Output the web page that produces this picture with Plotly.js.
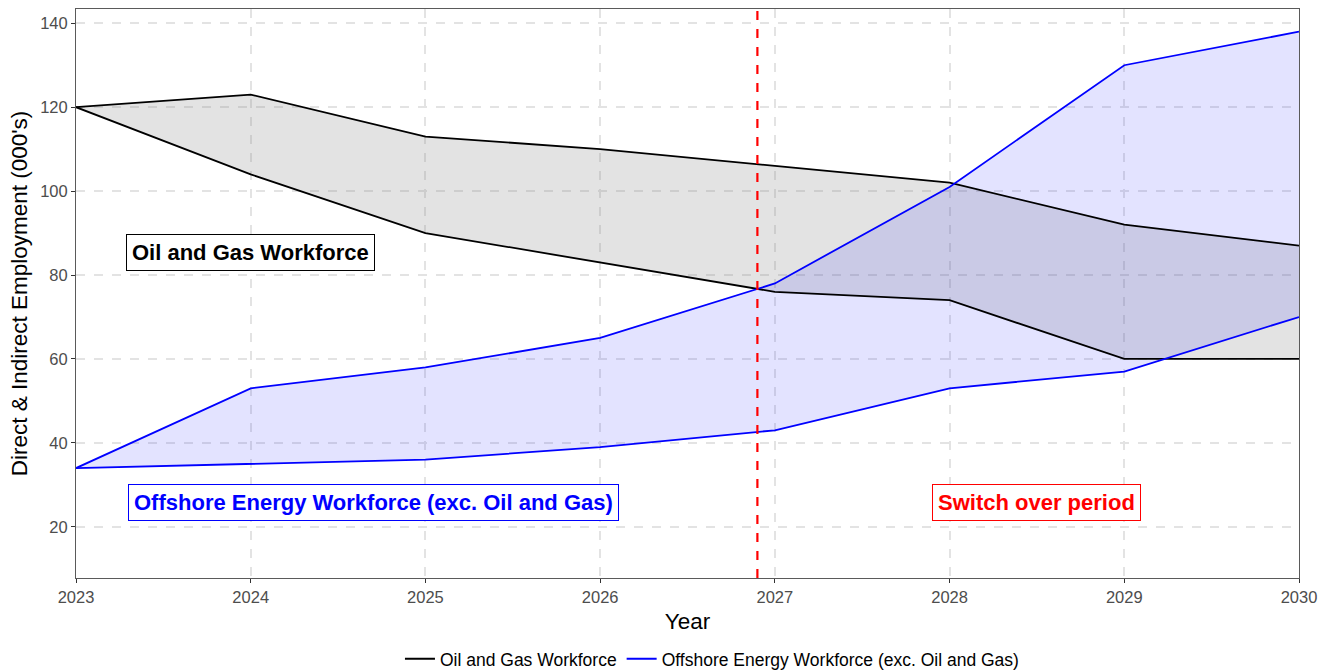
<!DOCTYPE html>
<html><head><meta charset="utf-8">
<script src="https://cdn.plot.ly/plotly-3.0.1.min.js"></script>
<style>body{margin:0;background:#fff}#chart{width:1330px;height:670px}</style>
</head><body><div id="chart"></div>
<script>
const years = [2023, 2024, 2025, 2026, 2027, 2028, 2029, 2030];
const oilUpper = [120, 123, 113, 110, 106, 102, 92, 87];
const oilLower = [120, 104, 90, 83, 76, 74, 60, 60];
const offUpper = [34, 53, 58, 65, 78, 101, 130, 138];
const offLower = [34, 35, 36, 39, 43, 53, 57, 70];
const switchYear = 2026.9;
const oilName = 'Oil and Gas Workforce';
const offName = 'Offshore Energy Workforce (exc. Oil and Gas)';

const traces = [
  {x: years, y: oilLower, mode: 'lines', line: {width: 0}, showlegend: false, hoverinfo: 'skip'},
  {x: years, y: oilUpper, mode: 'lines', line: {width: 0}, fill: 'tonexty', fillcolor: 'rgba(128,128,128,0.22)', showlegend: false, hoverinfo: 'skip'},
  {x: years, y: offLower, mode: 'lines', line: {width: 0}, showlegend: false, hoverinfo: 'skip'},
  {x: years, y: offUpper, mode: 'lines', line: {width: 0}, fill: 'tonexty', fillcolor: 'rgba(0,0,255,0.11)', showlegend: false, hoverinfo: 'skip'},
  {x: years, y: oilUpper, mode: 'lines', name: oilName, legendgroup: 'oil', line: {color: '#000000', width: 1.8}},
  {x: years, y: oilLower, mode: 'lines', name: oilName, legendgroup: 'oil', showlegend: false, line: {color: '#000000', width: 1.8}},
  {x: years, y: offUpper, mode: 'lines', name: offName, legendgroup: 'off', line: {color: '#0000ff', width: 1.8}},
  {x: years, y: offLower, mode: 'lines', name: offName, legendgroup: 'off', showlegend: false, line: {color: '#0000ff', width: 1.8}}
];

const gridStyle = {showgrid: true, gridcolor: '#e3e3e3', griddash: 'dash', gridwidth: 1.5, zeroline: false,
  showline: true, linecolor: '#5a5a5a', linewidth: 1, mirror: true,
  ticks: 'outside', ticklen: 4, tickcolor: '#333333',
  tickfont: {family: 'Liberation Sans, Arial, sans-serif', size: 16.5, color: '#4d4d4d'}};

const layout = {
  width: 1330, height: 670,
  margin: {l: 76, r: 31, t: 9, b: 92},
  paper_bgcolor: '#ffffff', plot_bgcolor: '#ffffff',
  font: {family: 'Liberation Sans, Arial, sans-serif'},
  xaxis: Object.assign({}, gridStyle, {range: [2023, 2030], tickvals: years, ticktext: years.map(String),
    title: {text: 'Year', font: {size: 22.5, color: '#000000'}, standoff: 8}}),
  yaxis: Object.assign({}, gridStyle, {range: [7.8, 143.4], tickvals: [20, 40, 60, 80, 100, 120, 140],
    title: {text: "Direct & Indirect Employment (000's)", font: {size: 22.5, color: '#000000'}, standoff: 6}}),
  shapes: [{type: 'line', xref: 'x', yref: 'paper', x0: switchYear, x1: switchYear, y0: 0, y1: 1,
    line: {color: '#ff0000', width: 2.2, dash: 'dash'}}],
  annotations: [
    {x: 2024, y: 85.4, xref: 'x', yref: 'y', text: '<b>' + oilName + '</b>', showarrow: false,
     font: {size: 22, color: '#000000'}, bordercolor: '#000000', borderwidth: 1, borderpad: 5, bgcolor: '#ffffff'},
    {x: 2024.7, y: 25.7, xref: 'x', yref: 'y', text: '<b>' + offName + '</b>', showarrow: false,
     font: {size: 22, color: '#0000ff'}, bordercolor: '#0000ff', borderwidth: 1, borderpad: 5, bgcolor: '#ffffff'},
    {x: 2028.5, y: 25.7, xref: 'x', yref: 'y', text: '<b>Switch over period</b>', showarrow: false,
     font: {size: 22, color: '#ff0000'}, bordercolor: '#ff0000', borderwidth: 1, borderpad: 5, bgcolor: '#ffffff'}
  ],
  legend: {orientation: 'h', x: 0.52, xanchor: 'center', yref: 'container', y: 0.0435, yanchor: 'top',
    font: {size: 17.5, color: '#000000'}, tracegroupgap: 0}
};

Plotly.newPlot('chart', traces, layout, {displayModeBar: false});
</script></body></html>
